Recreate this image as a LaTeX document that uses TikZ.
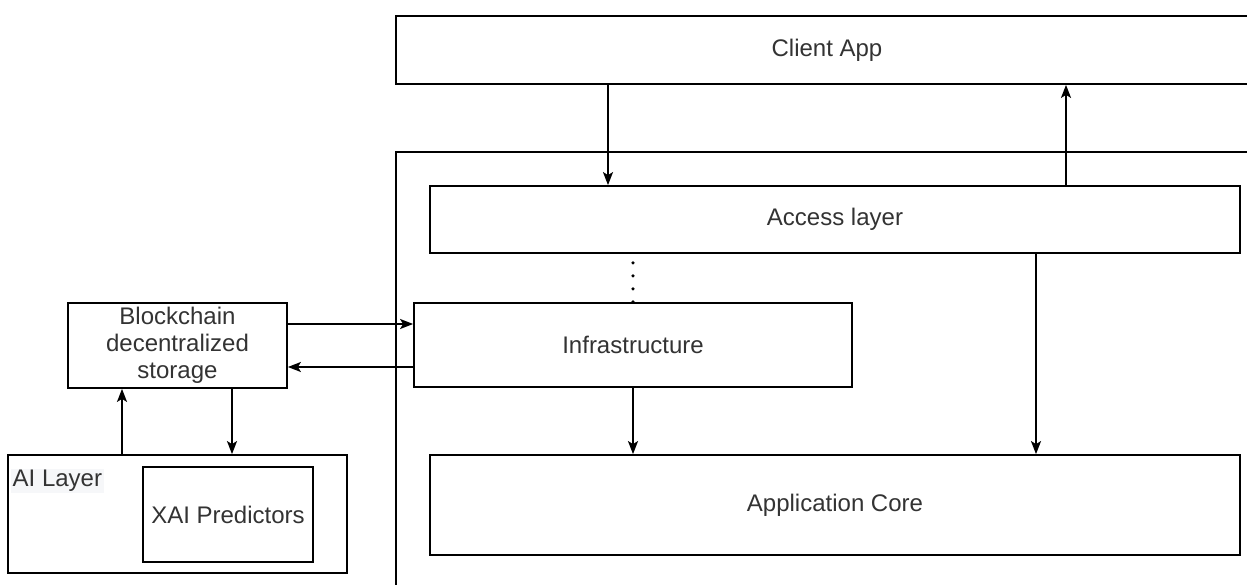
\documentclass[tikz,border=0pt]{standalone}
\usepackage{fontspec}
\setmainfont{Liberation Sans}
\usetikzlibrary{arrows.meta}
\definecolor{labelbg}{RGB}{246,247,249}
\begin{document}
\begin{tikzpicture}[x=1pt,y=-1pt,
        box/.style={draw,line width=1.8pt,inner sep=0pt,text=black!80,font=\fontsize{24}{27}\selectfont},
        arr/.style={line width=1.8pt,-{Stealth[length=13pt,width=10pt,inset=3pt]}}]
    \clip (0,0) rectangle (1247,585);
    \fill[white] (0,0) rectangle (1247,585);
    \node[box,minimum width=874,minimum height=460] (platform) at (833,382) {};
    \node[box,minimum width=862,minimum height=68] (client) at (827,50) {Client App};
    \node[box,fill=white,minimum width=810,minimum height=67] (access) at (835,219.5) {Access layer};
    \node[box,minimum width=438,minimum height=84] (infra) at (633,345) {Infrastructure};
    \node[box,minimum width=810,minimum height=100] (core) at (835,505) {Application Core};
    \node[box,align=center,minimum width=219,minimum height=85] (chain) at (177.5,345.5) {Blockchain\\decentralized\\storage};
    \node[box,minimum width=339,minimum height=118] (ai) at (177.5,514) {};
    \node[box,minimum width=170,minimum height=95] (xai) at (228,514.5) {XAI Predictors};
    \node[anchor=west,fill=labelbg,inner sep=1.5pt,text=black!80,font=\fontsize{24}{27}\selectfont] (ailabel) at (11,481) {AI Layer};
    \coordinate (xreq) at (608,0);
    \coordinate (xresp) at (1066,0);
    \coordinate (xcore) at (1036,0);
    \coordinate (xup) at (122,0);
    \coordinate (xdown) at (232,0);
    \coordinate (yin) at (0,324);
    \coordinate (yout) at (0,367);
    \draw[arr] (client.south -| xreq) -- (access.north -| xreq);
    \draw[arr] (access.north -| xresp) -- (client.south -| xresp);
    \draw[line width=3.6pt,line cap=round,dash pattern=on 0pt off 13pt] ([yshift=-9pt]access.south -| infra.north) -- (infra.north);
    \draw[arr] (infra.south) -- (core.north -| infra.south);
    \draw[arr] (access.south -| xcore) -- (core.north -| xcore);
    \draw[arr] (chain.east |- yin) -- (infra.west |- yin);
    \draw[arr] (infra.west |- yout) -- (chain.east |- yout);
    \draw[arr] (ai.north -| xup) -- (chain.south -| xup);
    \draw[arr] (chain.south -| xdown) -- (ai.north -| xdown);
\end{tikzpicture}
\end{document}
